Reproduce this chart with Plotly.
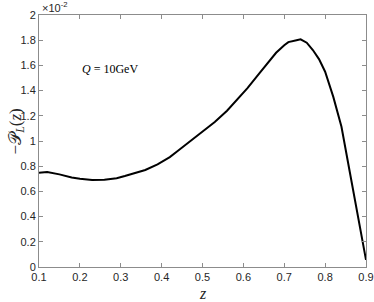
import plotly.graph_objects as go

# -P_L(z) in units of 1e-2
z = [0.10, 0.12, 0.15, 0.18, 0.20, 0.23, 0.26, 0.29, 0.31, 0.34, 0.36,
     0.39, 0.42, 0.44, 0.47, 0.50, 0.53, 0.56, 0.58, 0.61, 0.64, 0.66,
     0.68, 0.70, 0.71, 0.73, 0.74, 0.755, 0.77, 0.785, 0.80, 0.82,
     0.84, 0.86, 0.88, 0.90]
pl = [0.748, 0.754, 0.735, 0.71, 0.70, 0.69, 0.693, 0.705, 0.722, 0.75, 0.77,
      0.815, 0.872, 0.922, 1.00, 1.075, 1.15, 1.24, 1.31, 1.42, 1.54, 1.62,
      1.70, 1.76, 1.785, 1.80, 1.807, 1.78, 1.722, 1.65, 1.55, 1.35,
      1.113, 0.76, 0.40, 0.056]

xticks = [0.1, 0.2, 0.3, 0.4, 0.5, 0.6, 0.7, 0.8, 0.9]
yticks = [0, 0.2, 0.4, 0.6, 0.8, 1, 1.2, 1.4, 1.6, 1.8, 2]

fig = go.Figure()
fig.add_trace(go.Scatter(x=z, y=pl, mode="lines",
                         line=dict(color="black", width=2), showlegend=False))

axis_style = dict(
    showline=True, linecolor="#8c8c8c", linewidth=1, mirror="ticks",
    ticks="inside", ticklen=4, tickcolor="#8c8c8c", showgrid=False,
    zeroline=False, automargin=False, ticklabeloverflow="allow",
    tickfont=dict(family="Liberation Sans, Arial", size=11, color="#262626"),
)

fig.update_xaxes(range=[0.1, 0.9], tickvals=xticks,
                 ticktext=[f"{t:.1f}" for t in xticks], **axis_style)
fig.update_yaxes(range=[0, 2], tickvals=yticks,
                 ticktext=["0", "0.2", "0.4", "0.6", "0.8", "1", "1.2", "1.4", "1.6", "1.8", "2"],
                 **axis_style)

# axis titles as annotations
fig.add_annotation(x=0.5, y=0, xref="paper", yref="paper", xanchor="center", yanchor="middle",
                   yshift=-26, text="<i>z</i>", showarrow=False,
                   font=dict(family="Liberation Serif, Times New Roman", size=16, color="#262626"))
fig.add_annotation(x=0, y=0.538, xref="paper", yref="paper", xanchor="center", yanchor="middle",
                   xshift=-22, textangle=-90,
                   text="−𝒫<sub><i>L</i></sub>(<i>z</i>)", showarrow=False,
                   font=dict(family="Liberation Serif, DejaVu Serif", size=17, color="#262626"))

fig.add_annotation(x=0.2, y=1.57, xref="x", yref="y", xanchor="left", yanchor="middle",
                   text="<i>Q</i> = 10GeV", showarrow=False,
                   font=dict(family="Liberation Serif, Times New Roman", size=12, color="black"))
fig.add_annotation(x=0, y=1, xref="paper", yref="paper", xanchor="left", yanchor="bottom",
                   xshift=1, yshift=-1,
                   text="×10<sup>-2</sup>", showarrow=False,
                   font=dict(family="Liberation Sans, Arial", size=11, color="#262626"))

fig.update_layout(
    width=374, height=302,
    margin=dict(l=39, r=8, t=15, b=35),
    plot_bgcolor="white", paper_bgcolor="white",
)

# drop the browser's default 8px body margin so the figure fills the window
fig.write_html("out.html", config={"displayModeBar": False},
               post_script="document.body.style.margin='0';document.body.style.overflow='hidden';")
